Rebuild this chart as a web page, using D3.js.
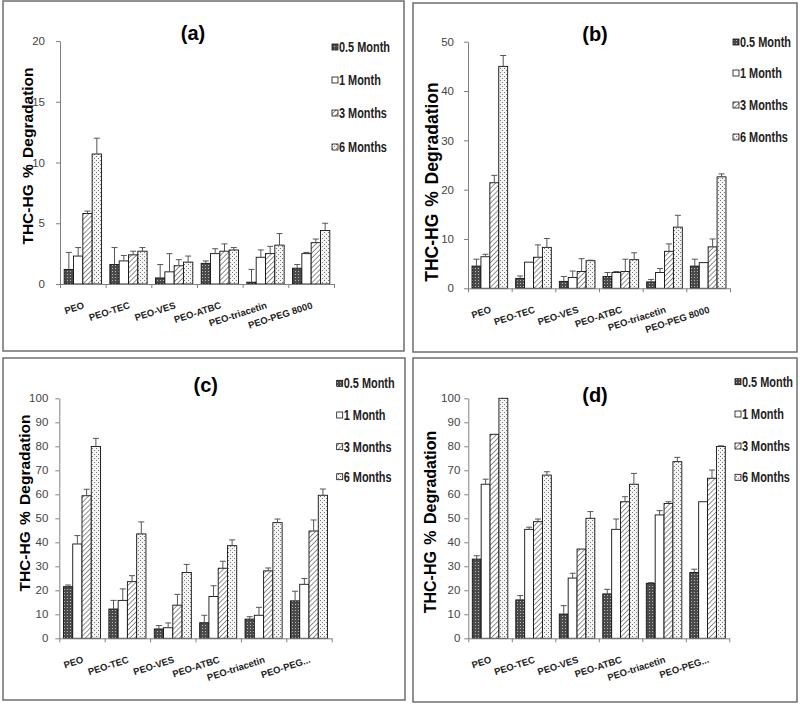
<html>

<head>
    <script src="https://cdn.jsdelivr.net/npm/d3@7"></script>
    <style>
        body {
            margin: 0;
            background: #ffffff;
            font-family: "Liberation Sans", Arial, sans-serif
        }
    </style>
</head>

<body>
    <svg id="Chart"></svg>
</body>

<script>
    let categoriesLong = ["PEO", "PEO-TEC", "PEO-VES", "PEO-ATBC", "PEO-triacetin", "PEO-PEG 8000"]
    let categoriesShort = ["PEO", "PEO-TEC", "PEO-VES", "PEO-ATBC", "PEO-triacetin", "PEO-PEG..."]
    let seriesNames = ["0.5 Month", "1 Month", "3 Months", "6 Months"]

    // one row per series, one value per category
    let valuesA = [
        [1.2, 1.6, 0.5, 1.7, 0.15, 1.3],
        [2.3, 1.9, 1.0, 2.5, 2.2, 2.5],
        [5.8, 2.4, 1.5, 2.7, 2.5, 3.4],
        [10.7, 2.7, 1.8, 2.8, 3.2, 4.4]
    ]
    let errorsA = [
        [1.4, 1.4, 1.1, 0.2, 1.05, 0.3],
        [0.7, 0.45, 1.5, 0.4, 0.6, 0.1],
        [0.2, 0.3, 0.5, 0.6, 0.6, 0.3],
        [1.3, 0.3, 0.5, 0.2, 0.95, 0.6]
    ]
    let valuesB = [
        [4.5, 2.0, 1.4, 2.4, 1.3, 4.5],
        [6.4, 5.3, 2.2, 3.2, 3.2, 5.2],
        [21.4, 6.3, 3.4, 3.4, 7.5, 8.4],
        [45.0, 8.3, 5.6, 5.8, 12.4, 22.6]
    ]
    let errorsB = [
        [1.4, 0.5, 1.0, 0.8, 0.5, 1.4],
        [0.5, 0, 1.3, 0.2, 0.8, 0],
        [1.5, 2.5, 2.6, 2.5, 1.5, 1.6],
        [2.2, 1.8, 0.1, 1.4, 2.4, 0.6]
    ]
    let valuesC = [
        [21.5, 12.2, 3.9, 6.5, 8.0, 15.6],
        [39.3, 15.8, 4.4, 17.4, 9.6, 22.5],
        [59.4, 23.6, 13.8, 29.2, 28.1, 44.7],
        [79.9, 43.5, 27.4, 38.6, 48.2, 59.6]
    ]
    let errorsC = [
        [0.7, 3.6, 1.4, 3.1, 1.0, 4.0],
        [3.5, 4.8, 2.0, 4.5, 3.3, 2.4],
        [2.7, 2.5, 4.5, 2.9, 1.2, 4.6],
        [3.4, 5.0, 3.4, 2.4, 1.5, 2.6]
    ]
    let valuesD = [
        [33.0, 16.0, 10.1, 18.5, 22.9, 27.4],
        [64.2, 45.4, 25.1, 45.4, 51.4, 56.9],
        [85.0, 48.6, 37.2, 56.9, 56.2, 66.7],
        [100, 68.0, 50.0, 64.2, 73.6, 79.9]
    ]
    let errorsD = [
        [1.4, 1.8, 3.5, 1.9, 0.3, 1.4],
        [2.1, 0.9, 2.0, 4.3, 1.8, 0],
        [0, 1.1, 0, 2.1, 0.7, 3.4],
        [0, 1.4, 2.8, 4.5, 1.8, 0.3]
    ]
    let yTicksA = [0, 5, 10, 15, 20]
    let yTicksB = [0, 10, 20, 30, 40, 50]
    let yTicksCD = [0, 10, 20, 30, 40, 50, 60, 70, 80, 90, 100]

    let fills = ["url(#patDark)", "#ffffff", "url(#patHatch)", "url(#patDots)"]

    let svg = d3.select("#Chart")
        .attr("width", 800)
        .attr("height", 705)

    function makePatterns() {
        let defs = svg.append("defs")

        let dark = defs.append("pattern").attr("id", "patDark")
            .attr("patternUnits", "userSpaceOnUse").attr("width", 3).attr("height", 3)
        dark.append("rect").attr("width", 3).attr("height", 3).attr("fill", "#4a4a4a")
        dark.append("rect").attr("x", 1).attr("y", 1).attr("width", 1).attr("height", 1).attr("fill", "#b8b8b8")

        let hatch = defs.append("pattern").attr("id", "patHatch")
            .attr("patternUnits", "userSpaceOnUse").attr("width", 3.5).attr("height", 3.5)
            .attr("patternTransform", "rotate(45)")
        hatch.append("rect").attr("width", 3.5).attr("height", 3.5).attr("fill", "#ffffff")
        hatch.append("line").attr("x1", 0).attr("y1", 0).attr("x2", 0).attr("y2", 3.5)
            .attr("stroke", "#555").attr("stroke-width", 1.3)

        let dots = defs.append("pattern").attr("id", "patDots")
            .attr("patternUnits", "userSpaceOnUse").attr("width", 4).attr("height", 4)
        dots.append("rect").attr("width", 4).attr("height", 4).attr("fill", "#f4f4f4")
        dots.append("rect").attr("x", 0).attr("y", 0).attr("width", 1).attr("height", 1).attr("fill", "#777")
        dots.append("rect").attr("x", 2).attr("y", 2).attr("width", 1).attr("height", 1).attr("fill", "#777")
    }

    function getPanels() {
        return [
            {
                box: [3, 1, 401, 350], left: 60, right: 334, top: 41, bottom: 284,
                values: valuesA, errors: errorsA, yTicks: yTicksA, categories: categoriesLong,
                title: "(a)", titleX: 193, titleY: 40,
                legendX: 332, legendY: [47, 80, 113, 147],
                labelX: 28, labelY: 156, labelSize: 15.5, tickPad: 11
            },
            {
                box: [413, 3, 384, 349], left: 468, right: 730, top: 41.7, bottom: 288.3,
                values: valuesB, errors: errorsB, yTicks: yTicksB, categories: categoriesLong,
                title: "(b)", titleX: 595, titleY: 41,
                legendX: 733, legendY: [42, 73, 105, 137],
                labelX: 433, labelY: 182, labelSize: 17.5, tickPad: 10
            },
            {
                box: [3, 358, 402, 342], left: 59.3, right: 331.7, top: 398.3, bottom: 638.3,
                values: valuesC, errors: errorsC, yTicks: yTicksCD, categories: categoriesShort,
                title: "(c)", titleX: 205.7, titleY: 392,
                legendX: 336.7, legendY: [383.3, 415, 446.7, 476.7],
                labelX: 25, labelY: 503, labelSize: 15.5, tickPad: 7
            },
            {
                box: [413, 358, 384, 344], left: 468.3, right: 729.3, top: 398.3, bottom: 638.3,
                values: valuesD, errors: errorsD, yTicks: yTicksCD, categories: categoriesShort,
                title: "(d)", titleX: 595, titleY: 402,
                legendX: 735, legendY: [381.7, 414, 446, 477.3],
                labelX: 431, labelY: 522, labelSize: 16, tickPad: 4
            }
        ]
    }

    function drawPanel(p) {
        let g = svg.append("g")

        g.append("rect")
            .attr("x", p.box[0]).attr("y", p.box[1])
            .attr("width", p.box[2]).attr("height", p.box[3])
            .attr("fill", "#ffffff")
            .attr("stroke", "#6e6e6e")
            .attr("stroke-width", 1.5)

        let yMax = p.yTicks[p.yTicks.length - 1]
        let yScale = d3.scaleLinear().domain([0, yMax]).range([p.bottom, p.top])
        let xScale = d3.scaleBand().domain(p.categories).range([p.left, p.right])
        let inner = d3.scaleBand().domain(d3.range(seriesNames.length))
            .range([0, xScale.bandwidth()]).paddingOuter(0.45)
        let tickScale = d3.scaleLinear().domain([0, p.categories.length]).range([p.left, p.right])

        // bars
        p.values.forEach((row, s) => {
            g.selectAll(".bar" + s)
                .data(row)
                .enter().append("rect")
                .attr("x", (d, i) => xScale(p.categories[i]) + inner(s))
                .attr("y", d => yScale(d))
                .attr("width", inner.bandwidth())
                .attr("height", d => yScale(0) - yScale(d))
                .attr("fill", fills[s])
                .attr("stroke", "#111")
                .attr("stroke-width", 0.9)
        })

        // error bars
        p.values.forEach((row, s) => {
            row.forEach((v, i) => {
                let e = p.errors[s][i]
                if (e <= 0) return
                let cx = xScale(p.categories[i]) + inner(s) + inner.bandwidth() / 2
                g.append("line")
                    .attr("x1", cx).attr("x2", cx)
                    .attr("y1", yScale(v)).attr("y2", yScale(v + e))
                    .attr("stroke", "#555").attr("stroke-width", 1)
                g.append("line")
                    .attr("x1", cx - 3).attr("x2", cx + 3)
                    .attr("y1", yScale(v + e)).attr("y2", yScale(v + e))
                    .attr("stroke", "#555").attr("stroke-width", 1)
            })
        })

        // axes
        let axisY = d3.axisLeft(yScale).tickValues(p.yTicks).tickSize(4).tickSizeOuter(0).tickPadding(p.tickPad)
        let gy = g.append("g").attr("transform", `translate(${p.left},0)`).call(axisY)
        gy.selectAll("path, line").attr("stroke", "#808080")
        gy.selectAll("text")
            .attr("fill", "#444")
            .style("font-family", "Liberation Sans, Arial, sans-serif")
            .style("font-size", "11.5px")

        let axisX = d3.axisBottom(tickScale).tickValues(d3.range(p.categories.length + 1))
            .tickSize(4).tickSizeOuter(0).tickFormat("")
        let gx = g.append("g").attr("transform", `translate(0,${p.bottom})`).call(axisX)
        gx.selectAll("path, line").attr("stroke", "#808080")

        // category labels
        g.selectAll(".catLabel")
            .data(p.categories)
            .enter().append("text")
            .attr("transform", d => `translate(${xScale(d) + xScale.bandwidth() / 2 + 2},${p.bottom + 24}) rotate(-18)`)
            .attr("text-anchor", "end")
            .style("font-size", "9.5px")
            .style("font-weight", "bold")
            .attr("fill", "#222")
            .text(d => d)

        // title
        g.append("text")
            .attr("x", p.titleX).attr("y", p.titleY)
            .attr("text-anchor", "middle")
            .style("font-size", "20px")
            .style("font-weight", "bold")
            .text(p.title)

        // y label
        g.append("text")
            .attr("transform", `translate(${p.labelX + 5},${p.labelY}) rotate(-90)`)
            .attr("text-anchor", "middle")
            .style("font-size", p.labelSize + "px")
            .style("font-weight", "bold")
            .style("word-spacing", "2px")
            .text("THC-HG % Degradation")

        // legend (condensed text, squeezed horizontally)
        seriesNames.forEach((name, s) => {
            g.append("rect")
                .attr("x", p.legendX).attr("y", p.legendY[s] - 3)
                .attr("width", 6).attr("height", 6)
                .attr("fill", fills[s])
                .attr("stroke", "#111").attr("stroke-width", 0.8)
            g.append("text")
                .attr("transform", `translate(${p.legendX + 7},${p.legendY[s] + 5}) scale(0.78,1)`)
                .style("font-size", "14px")
                .style("font-weight", "bold")
                .attr("fill", "#222")
                .text(name)
        })
    }

    makePatterns()
    getPanels().forEach(drawPanel)
</script>

</html>
